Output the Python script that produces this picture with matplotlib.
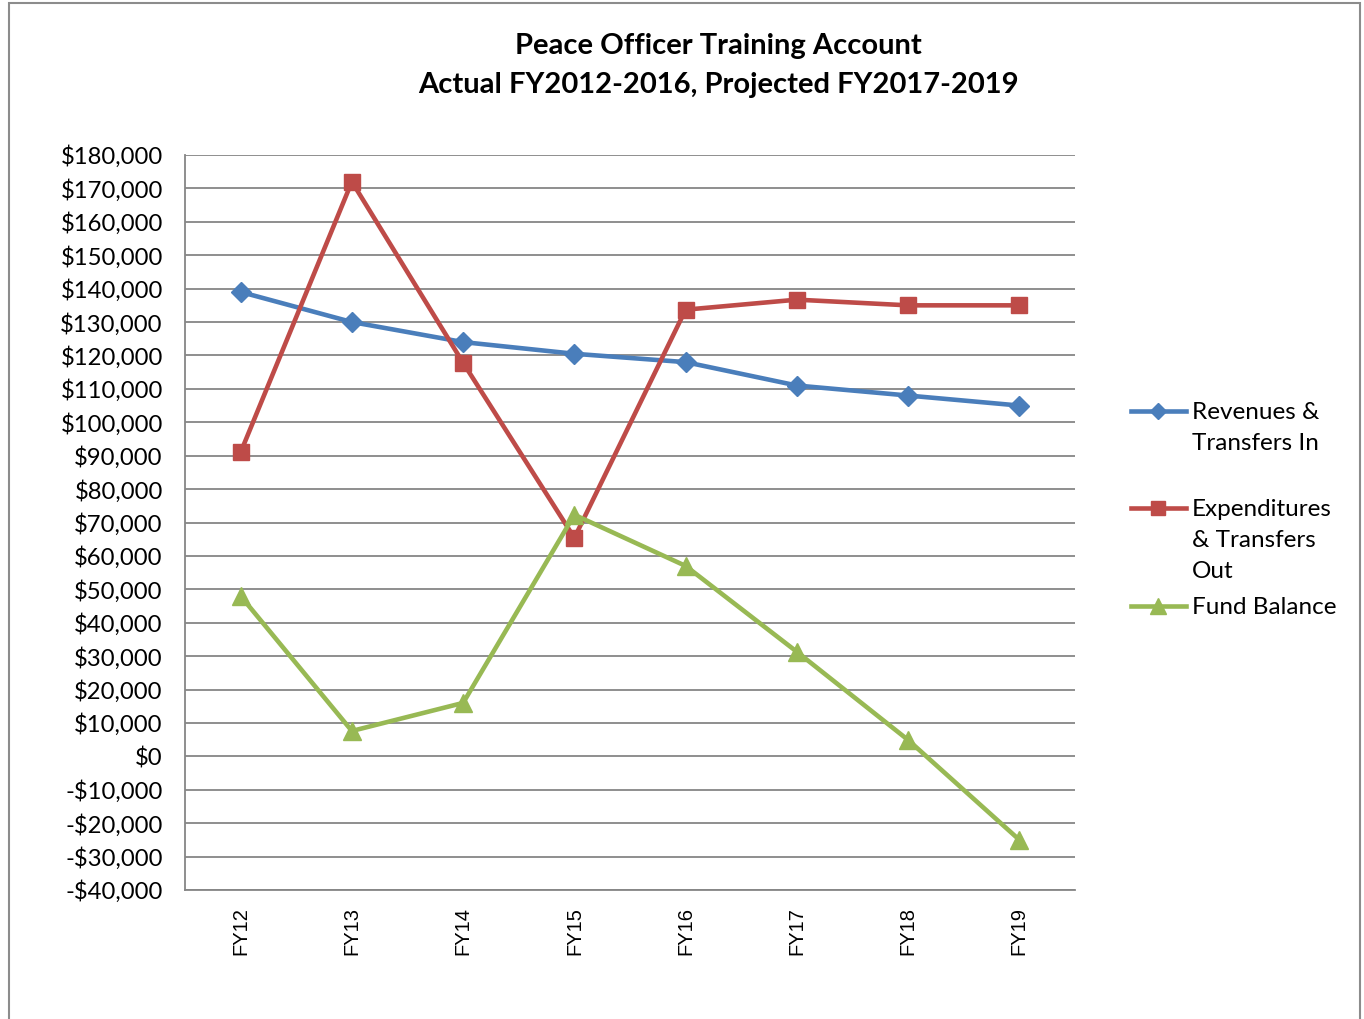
import matplotlib
matplotlib.use("Agg")
import matplotlib.pyplot as plt
from matplotlib.lines import Line2D
from matplotlib.patches import Rectangle
from matplotlib.ticker import FuncFormatter, MultipleLocator

# data
years = ["FY12", "FY13", "FY14", "FY15", "FY16", "FY17", "FY18", "FY19"]
revenues = [139000, 130000, 124000, 120500, 118000, 111000, 108000, 105000]
expenditures = [91000, 172000, 117800, 65400, 133700, 136700, 135000, 135000]
fund_balance = [48000, 7600, 16000, 72300, 57000, 31300, 4900, -25000]

series_names = ["Revenues &\nTransfers In", "Expenditures\n& Transfers\nOut", "Fund Balance"]
colors = ["#4A7EBB", "#BE4B48", "#98B954"]
markers = ["D", "s", "^"]
msizes = [10, 12, 13]

W, H = 1364, 1019
fig = plt.figure(figsize=(W / 100, H / 100), dpi=100)

# chart border (bottom runs off the image)
fig.patches.append(Rectangle((9 / W, -0.05), (1360 - 9) / W, 1.05 - 3 / H,
                             transform=fig.transFigure, fill=False,
                             edgecolor="#8c8c8c", linewidth=1.5))

ax = fig.add_axes([185 / W, 1 - 890 / H, (1075 - 185) / W, (890 - 155) / H])

x = list(range(len(years)))
for vals, c, m, ms in zip([revenues, expenditures, fund_balance], colors, markers, msizes):
    ax.plot(x, vals, color=c, marker=m, markersize=ms, linewidth=3.3,
            markeredgecolor=c, zorder=3, clip_on=False)

ax.set_xlim(-0.5, len(years) - 0.5)
ax.set_ylim(-40000, 180000)
ax.yaxis.set_major_locator(MultipleLocator(10000))
ax.yaxis.set_major_formatter(FuncFormatter(
    lambda v, p: "$0" if v == 0 else ("-$" if v < 0 else "$") + f"{abs(int(v)):,}"))
ax.grid(axis="y", color="#868686", linewidth=1.3)
ax.set_axisbelow(True)
for s in ["top", "right"]:
    ax.spines[s].set_visible(False)
for s in ["left", "bottom"]:
    ax.spines[s].set_color("#868686")
    ax.spines[s].set_linewidth(1.3)
ax.tick_params(axis="both", length=0)
ax.tick_params(axis="y", pad=16, labelsize=17.2)
for lab in ax.get_yticklabels():
    lab.set_fontfamily("Lato")
ax.set_xticks(x)
ax.set_xticklabels(years, rotation=90, fontsize=14.5, fontfamily="Liberation Sans")
ax.tick_params(axis="x", pad=12)

fig.text(718 / W, 1 - 46 / H, "Peace Officer Training Account", ha="center", va="center",
         fontsize=21, fontweight="bold", fontfamily="Lato")
fig.text(718 / W, 1 - 85 / H, "Actual FY2012-2016, Projected FY2017-2019", ha="center",
         va="center", fontsize=21, fontweight="bold", fontfamily="Lato")

# legend drawn by hand so the key sits beside the first line of each label
leg_y = [411, 508, 606]
for name, c, m, ms, yy in zip(series_names, colors, markers, msizes, leg_y):
    fig.lines.append(Line2D([1131 / W, 1186 / W], [1 - yy / H] * 2, transform=fig.transFigure,
                            color=c, linewidth=3.3))
    fig.lines.append(Line2D([1158 / W], [1 - yy / H], transform=fig.transFigure, color=c,
                            marker=m, markersize=ms * 0.85, markeredgecolor=c, linestyle="none"))
    fig.text(1192 / W, 1 - (yy - 9) / H, name, ha="left", va="top", fontsize=17.5,
             fontfamily="Lato", linespacing=1.6)

fig.savefig("out.png", dpi=100)
